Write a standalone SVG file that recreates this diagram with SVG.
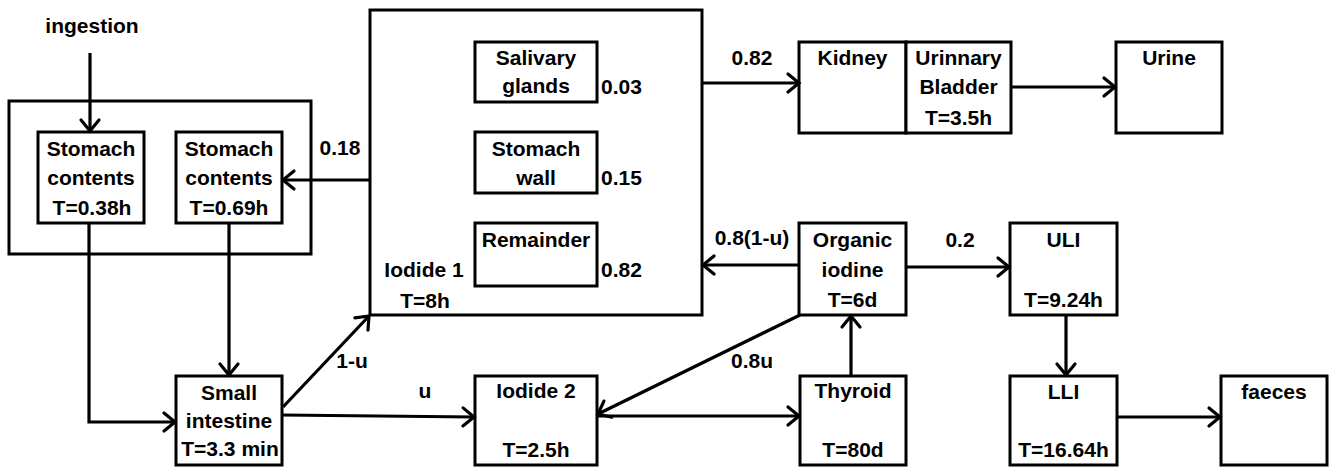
<svg xmlns="http://www.w3.org/2000/svg" width="1332" height="467" viewBox="0 0 1332 467">
<defs>
<marker id="arr" markerUnits="userSpaceOnUse" markerWidth="30" markerHeight="30" viewBox="-15 -15 30 30" refX="0" refY="0" orient="auto">
<path d="M-11,-9 L0,0 L-11,9" fill="none" stroke="#000" stroke-width="3.2" stroke-linecap="round" stroke-linejoin="miter"/>
</marker>
<style>
.box{fill:#fff;stroke:#000;stroke-width:3}
.grp{fill:none;stroke:#000;stroke-width:3}
.t{font-family:"Liberation Sans",Arial,sans-serif;font-weight:bold;font-size:21px;fill:#000;text-anchor:middle}
.l{font-family:"Liberation Sans",Arial,sans-serif;font-weight:bold;font-size:21px;fill:#000}
.c{fill:none;stroke:#000;stroke-width:3.2;marker-end:url(#arr)}
</style>
</defs>
<rect width="1332" height="467" fill="#fff"/>

<g id="stomach-group"><rect class="grp" x="9" y="101" width="302" height="153"/></g>
<g id="iodide1"><rect class="grp" x="370" y="10" width="332" height="305"/>
<text class="t" x="424" y="277">Iodide 1</text><text class="t" x="425" y="308">T=8h</text></g>

<g id="ingestion"><text class="t" x="92" y="33">ingestion</text></g>
<g id="stomach1"><rect class="box" x="38" y="132" width="106" height="91"/>
<text class="t" x="91" y="156">Stomach</text><text class="t" x="91" y="185">contents</text><text class="t" x="92" y="215">T=0.38h</text></g>
<g id="stomach2"><rect class="box" x="176" y="132" width="106" height="91"/>
<text class="t" x="229" y="156">Stomach</text><text class="t" x="229" y="185">contents</text><text class="t" x="229" y="215">T=0.69h</text></g>

<g id="salivary"><rect class="box" x="475" y="42" width="122" height="60"/>
<text class="t" x="536" y="65">Salivary</text><text class="t" x="536" y="93">glands</text></g>
<g id="stomachwall"><rect class="box" x="475" y="132" width="122" height="61"/>
<text class="t" x="536" y="156">Stomach</text><text class="t" x="536" y="185">wall</text></g>
<g id="remainder"><rect class="box" x="475" y="223" width="122" height="63"/>
<text class="t" x="536" y="247">Remainder</text></g>
<g id="fractions"><text class="l" x="601" y="94">0.03</text><text class="l" x="601" y="185">0.15</text><text class="l" x="601" y="277">0.82</text></g>

<g id="kidney"><rect class="box" x="799" y="42" width="107" height="91"/><text class="t" x="852.5" y="65">Kidney</text></g>
<g id="bladder"><rect class="box" x="906" y="42" width="105" height="91"/>
<text class="t" x="958.5" y="65">Urinnary</text><text class="t" x="958.5" y="94">Bladder</text><text class="t" x="958.5" y="125">T=3.5h</text></g>
<g id="urine"><rect class="box" x="1116" y="42" width="106" height="91"/><text class="t" x="1169" y="65">Urine</text></g>

<g id="organic"><rect class="box" x="799" y="223" width="107" height="92"/>
<text class="t" x="852.5" y="247">Organic</text><text class="t" x="852.5" y="277">iodine</text><text class="t" x="852.5" y="307">T=6d</text></g>
<g id="uli"><rect class="box" x="1010" y="223" width="107" height="92"/>
<text class="t" x="1063.5" y="247">ULI</text><text class="t" x="1063.5" y="307">T=9.24h</text></g>

<g id="smallintestine"><rect class="box" x="176" y="376" width="106" height="89"/>
<text class="t" x="229" y="400">Small</text><text class="t" x="229" y="428">intestine</text><text class="t" x="230" y="456">T=3.3 min</text></g>
<g id="iodide2"><rect class="box" x="475" y="376" width="122" height="89"/>
<text class="t" x="536" y="398">Iodide 2</text><text class="t" x="536" y="457">T=2.5h</text></g>
<g id="thyroid"><rect class="box" x="800" y="376" width="106" height="89"/>
<text class="t" x="853" y="398">Thyroid</text><text class="t" x="853" y="457">T=80d</text></g>
<g id="lli"><rect class="box" x="1010" y="376" width="107" height="89"/>
<text class="t" x="1063.5" y="399">LLI</text><text class="t" x="1063.5" y="457">T=16.64h</text></g>
<g id="faeces"><rect class="box" x="1221" y="376" width="106" height="89"/><text class="t" x="1274" y="399">faeces</text></g>

<g id="connectors">
<path class="c" d="M90,53 V131"/>
<path class="c" d="M89,223 V422 H175"/>
<path class="c" d="M229,223 V375"/>
<path class="c" d="M370,180 H283"/>
<path class="c" d="M283,407 L369,316"/>
<path class="c" d="M282,415 L474,417"/>
<path class="c" d="M702,83 H799"/>
<path class="c" d="M1011,87 H1115"/>
<path class="c" d="M799,265 H703"/>
<path class="c" d="M906,267 H1009"/>
<path class="c" d="M1066,316 V375"/>
<path class="c" d="M1117,417 H1220"/>
<path class="c" d="M597,416 H799"/>
<path class="c" d="M851,376 V316"/>
<path class="c" d="M800,315 L598,414"/>
<text class="t" x="340" y="155">0.18</text>
<text class="t" x="352" y="368">1-u</text>
<text class="t" x="425" y="398">u</text>
<text class="t" x="752" y="65">0.82</text>
<text class="t" x="752" y="245">0.8(1-u)</text>
<text class="t" x="960" y="247">0.2</text>
<text class="t" x="752" y="368">0.8u</text>
</g>
</svg>
